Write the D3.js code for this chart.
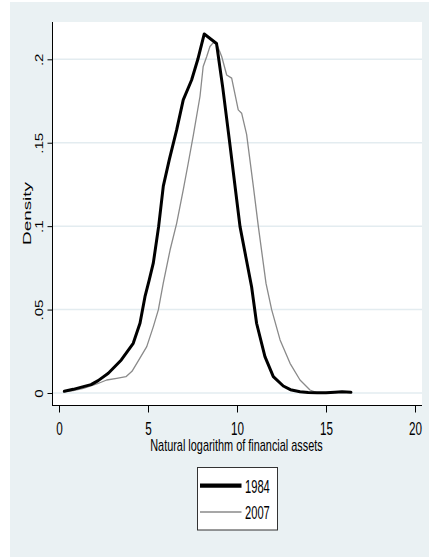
<!DOCTYPE html>
<html>
<head>
<meta charset="utf-8">
<script src="https://cdn.jsdelivr.net/npm/d3@7"></script>
<style>
  body { margin: 0; background: #fff; }
  text { font-family: "Liberation Sans", Arial, sans-serif; fill: #000; }
</style>
</head>
<body>
<div id="chart"></div>
<script>
// DATA
const x1984 = [0.3, 0.8, 1.37, 1.8, 2.2, 2.77, 3.5, 4.17, 4.55, 4.83, 5.07, 5.3, 5.6, 5.86, 6.2, 6.61, 6.98, 7.45, 7.8, 8.16, 8.85, 9.2, 9.57, 9.9, 10.17, 10.5, 10.82, 11.1, 11.57, 12.04, 12.6, 13.0, 13.54, 14.0, 14.5, 15.0, 15.5, 15.9, 16.4];
const y1984 = [0.001, 0.0022, 0.0038, 0.005, 0.0074, 0.0118, 0.0198, 0.0298, 0.0418, 0.0577, 0.0678, 0.078, 0.1, 0.124, 0.14, 0.1577, 0.1757, 0.1876, 0.2, 0.2152, 0.2095, 0.183, 0.1517, 0.123, 0.0997, 0.0814, 0.0637, 0.0418, 0.0218, 0.0098, 0.0042, 0.002, 0.0008, 0.0003, 0.0002, 0.0002, 0.0005, 0.0007, 0.0004];
const x2007 = [0.3, 0.8, 1.37, 2.12, 2.68, 3.24, 3.76, 4.1, 4.37, 4.93, 5.3, 5.58, 5.86, 6.24, 6.61, 6.98, 7.26, 7.55, 7.92, 8.1, 8.3, 8.48, 8.67, 8.86, 9.14, 9.42, 9.7, 10.07, 10.26, 10.54, 10.92, 11.2, 11.63, 11.95, 12.42, 12.98, 13.54, 14.1, 14.48];
const y2007 = [0.0008, 0.0015, 0.0028, 0.0054, 0.0078, 0.0088, 0.0098, 0.013, 0.0178, 0.0278, 0.0398, 0.0498, 0.066, 0.0857, 0.1017, 0.1217, 0.1377, 0.1547, 0.1777, 0.1957, 0.2017, 0.2077, 0.21, 0.2092, 0.2017, 0.1906, 0.1887, 0.1697, 0.1677, 0.155, 0.1237, 0.0997, 0.0657, 0.0498, 0.0318, 0.0178, 0.0078, 0.0018, 0.0002];

const xTicks = [0, 5, 10, 15, 20];
const yTicks = [0, 0.05, 0.1, 0.15, 0.2];
const yTickLabels = ["0", ".05", ".1", ".15", ".2"];
const seriesNames = ["1984", "2007"];
const xTitle = "Natural logarithm of financial assets";
const yTitle = "Density";

// CONSTANTS
const WIDTH = 429;
const HEIGHT = 559;
const BG = "#eaf1f3";

const svg = d3.select("#chart")
  .append("svg")
  .attr("width", WIDTH)
  .attr("height", HEIGHT);

// outer panel
svg.append("rect")
  .attr("x", 10).attr("y", 2)
  .attr("width", 419).attr("height", 555)
  .attr("fill", BG);

// plot region
const plot = { left: 53, top: 22, right: 422, bottom: 405 };
svg.append("rect")
  .attr("x", plot.left).attr("y", plot.top)
  .attr("width", plot.right - plot.left)
  .attr("height", plot.bottom - plot.top)
  .attr("fill", "#fff");

const x = d3.scaleLinear().domain([0, 20]).range([59, 415]);
const y = d3.scaleLinear().domain([0, 0.2]).range([393, 59.3]);

// gridlines
svg.append("g")
  .selectAll("line")
  .data(yTicks)
  .enter()
  .append("line")
  .attr("x1", plot.left).attr("x2", plot.right)
  .attr("y1", d => y(d)).attr("y2", d => y(d))
  .attr("stroke", "#e3ecf0")
  .attr("stroke-width", 1.5);

// curves
const line = d3.line().x(d => x(d[0])).y(d => y(d[1]));
const pts1984 = x1984.map((v, i) => [v, y1984[i]]);
const pts2007 = x2007.map((v, i) => [v, y2007[i]]);

svg.append("path")
  .attr("d", line(pts2007))
  .attr("fill", "none")
  .attr("stroke", "#8a8a8a")
  .attr("stroke-width", 1.3)
  .attr("stroke-linejoin", "round");

svg.append("path")
  .attr("d", line(pts1984))
  .attr("fill", "none")
  .attr("stroke", "#000")
  .attr("stroke-width", 3)
  .attr("stroke-linejoin", "round")
  .attr("stroke-linecap", "round");

// x axis
const xAxis = svg.append("g")
  .attr("transform", `translate(0,${plot.bottom + 0.5})`)
  .call(d3.axisBottom(x).tickValues(xTicks).tickSize(7).tickSizeOuter(0));
xAxis.select(".domain").attr("d", `M${plot.left - 1},0H${plot.right}`);
xAxis.selectAll(".tick line").attr("stroke", "#000");
xAxis.selectAll(".tick text")
  .attr("y", 29.5).attr("dy", 0)
  .attr("font-size", 18)
  .attr("transform", "scale(0.65,1)");

// y axis
const yAxis = svg.append("g")
  .attr("transform", `translate(${plot.left - 0.5},0)`)
  .call(d3.axisLeft(y).tickValues(yTicks).tickSize(5).tickSizeOuter(0)
    .tickFormat((d, i) => yTickLabels[i]));
yAxis.select(".domain").attr("d", `M0,${plot.top}V${plot.bottom + 1}`);
yAxis.selectAll(".tick line").attr("stroke", "#000");
yAxis.selectAll(".tick text")
  .attr("x", 0).attr("dy", 0)
  .attr("text-anchor", "middle")
  .attr("font-size", 11.6)
  .attr("transform", "translate(-9.2,0) rotate(-90) scale(1.3,1)");

// axis titles
svg.append("text")
  .attr("text-anchor", "middle")
  .attr("font-size", 15.8)
  .attr("transform", "translate(236.5,451) scale(0.69,1)")
  .text(xTitle);

svg.append("text")
  .attr("text-anchor", "middle")
  .attr("font-size", 10.5)
  .attr("transform", "translate(31,213.5) rotate(-90) scale(1.8,1)")
  .text(yTitle);

// legend
const legend = svg.append("g");
legend.append("rect")
  .attr("x", 197.5).attr("y", 467.5)
  .attr("width", 80).attr("height", 62.5)
  .attr("fill", "#fff")
  .attr("stroke", "#333")
  .attr("stroke-width", 1);

const legendY = d3.scalePoint().domain(seriesNames).range([485.7, 512]);
const legendStroke = { "1984": ["#000", 4.2], "2007": ["#8a8a8a", 1.5] };

legend.selectAll("line")
  .data(seriesNames)
  .enter()
  .append("line")
  .attr("x1", 200).attr("x2", 241.5)
  .attr("y1", d => legendY(d)).attr("y2", d => legendY(d))
  .attr("stroke", d => legendStroke[d][0])
  .attr("stroke-width", d => legendStroke[d][1]);

legend.selectAll("text")
  .data(seriesNames)
  .enter()
  .append("text")
  .attr("font-size", 18)
  .attr("transform", d => `translate(245,${legendY(d) + 6.8}) scale(0.62,1)`)
  .text(d => d);
</script>
</body>
</html>
